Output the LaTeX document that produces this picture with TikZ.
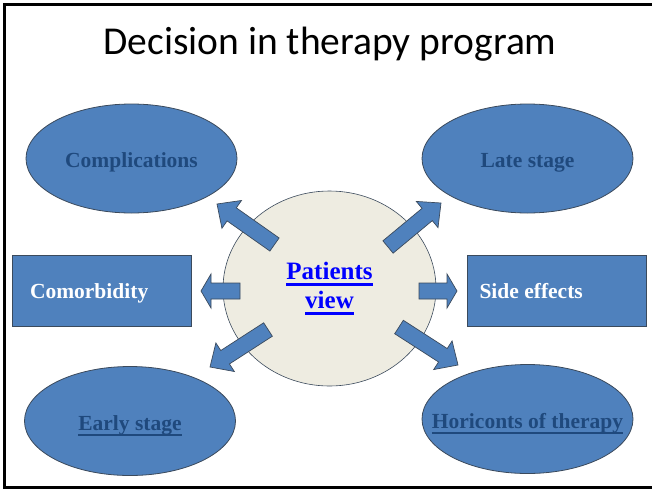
\documentclass[tikz,border=0pt]{standalone}
\usepackage{fontspec}
\setmainfont{Liberation Serif}
\newfontfamily\titlefont{Carlito}
\usetikzlibrary{shapes.geometric,calc}

\definecolor{shapeblue}{HTML}{4F81BD}
\definecolor{rimgray}{HTML}{3B4A5C}
\definecolor{labelblue}{HTML}{1F497D}
\definecolor{paper}{HTML}{EEECE1}
\definecolor{linkblue}{HTML}{0000FF}

% underline with a heavier rule
\newsavebox\ulbox
\newcommand{\ulink}[1]{\sbox\ulbox{#1}\rlap{\usebox\ulbox}\rule[-6pt]{\wd\ulbox}{2.2pt}}

% block arrow from #1 to #2, head length #3
\newcommand{\fatarrow}[3]{%
	\coordinate (head) at ($(#2)!#3!(#1)$);
	\draw[blockarrow] ($(#1)!8pt!90:(#2)$) -- ($(head)!8pt!-90:(#1)$) -- ($(head)!17pt!-90:(#1)$) -- (#2)
		-- ($(head)!17pt!90:(#1)$) -- ($(head)!8pt!90:(#1)$) -- ($(#1)!8pt!-90:(#2)$) -- cycle;}

\begin{document}
\begin{tikzpicture}[x=1pt,y=-1pt,
	oval/.style={ellipse, draw=rimgray, line width=0.8pt, fill=shapeblue, minimum width=211pt, minimum height=109pt,
		text=labelblue, text height=20pt, text depth=2pt, font=\fontsize{21.5}{24}\selectfont\bfseries},
	sidebox/.style={rectangle, draw=rimgray, line width=0.8pt, fill=shapeblue, minimum height=71pt, align=flush left,
		text=white, text height=18.5pt, text depth=2.5pt, font=\fontsize{21.5}{24}\selectfont\bfseries},
	blockarrow/.style={draw=rimgray, line width=0.7pt, fill=shapeblue}]
		\useasboundingbox (0,0) rectangle (652,490);
		\draw[line width=2.6pt] (700,4.5) -- (4.5,4.5) -- (4.5,487.5) -- (700,487.5);
		\node[font=\titlefont\fontsize{39.5}{44}\selectfont, anchor=base] (title) at (330,54) {Decision in therapy program};

		\node[oval] (comp) at (131.5,158.5) {\makebox[0pt]{Complications}};
		\node[oval] (late) at (527.5,158.5) {\makebox[0pt]{Late stage}};
		\node[oval] (early) at (130,421) {\makebox[0pt]{\ulink{Early stage}}};
		\node[oval] (hori) at (527.5,419) {\makebox[0pt]{\ulink{Horiconts of therapy}}};

		\node[sidebox, inner xsep=18pt, text width=143pt] (comorb) at (101.5,290.5) {Comorbidity};
		\node[sidebox, inner xsep=12pt, text width=155pt] (side) at (557,290.5) {Side effects};

		\node[ellipse, draw=rimgray, line width=0.6pt, fill=paper, minimum width=213pt, minimum height=195pt, align=center,
			text=linkblue, font=\fontsize{25}{29}\selectfont\bfseries] (pv) at (329.5,288.5) {\ulink{Patients}\\\ulink{view}};

		% arrows out of the middle
		\foreach \n/\tx/\ty/\px/\py in {1/274.5/244.5/217/204, 2/388/247/441/203, 3/240/291/201/291,
			4/419/291/457/291, 5/268/329.5/210/367, 6/399/327/458/365}{
			\coordinate (tail\n) at (\tx,\ty);
			\coordinate (tip\n) at (\px,\py);
		}
		\foreach \n/\h in {1/18pt,2/18pt,3/10pt,4/10pt,5/18pt,6/18pt}
			{\fatarrow{tail\n}{tip\n}{\h}}
	\end{tikzpicture}
\end{document}
